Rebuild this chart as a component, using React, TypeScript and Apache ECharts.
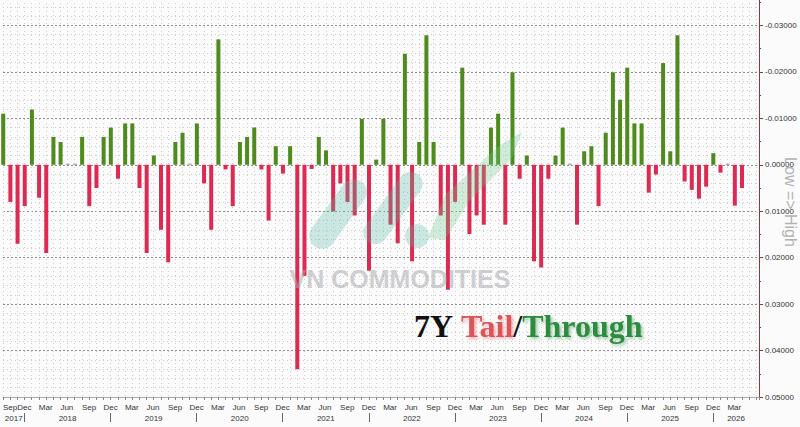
import React, { useEffect, useRef } from "react";
import * as echarts from "echarts";

// ---- data ----
const monthNames = ["Jan", "Feb", "Mar", "Apr", "May", "Jun", "Jul", "Aug", "Sep", "Oct", "Nov", "Dec"];

const auctionMonths = [
  "2017-09", "2017-10", "2017-11", "2017-12",
  "2018-01", "2018-02", "2018-03", "2018-04", "2018-05", "2018-06", "2018-07", "2018-08", "2018-09", "2018-10", "2018-11", "2018-12",
  "2019-01", "2019-02", "2019-03", "2019-04", "2019-05", "2019-06", "2019-07", "2019-08", "2019-09", "2019-10", "2019-11", "2019-12",
  "2020-01", "2020-02", "2020-03", "2020-04", "2020-05", "2020-06", "2020-07", "2020-08", "2020-09", "2020-10", "2020-11", "2020-12",
  "2021-01", "2021-02", "2021-03", "2021-04", "2021-05", "2021-06", "2021-07", "2021-08", "2021-09", "2021-10", "2021-11", "2021-12",
  "2022-01", "2022-02", "2022-03", "2022-04", "2022-05", "2022-06", "2022-07", "2022-08", "2022-09", "2022-10", "2022-11", "2022-12",
  "2023-01", "2023-02", "2023-03", "2023-04", "2023-05", "2023-06", "2023-07", "2023-08", "2023-09", "2023-10", "2023-11", "2023-12",
  "2024-01", "2024-02", "2024-03", "2024-04", "2024-05", "2024-06", "2024-07", "2024-08", "2024-09", "2024-10", "2024-11", "2024-12",
  "2025-01", "2025-02", "2025-03", "2025-04", "2025-05", "2025-06", "2025-07", "2025-08", "2025-09", "2025-10", "2025-11", "2025-12",
  "2026-01", "2026-02", "2026-03", "2026-04",
];

// positive = tail (red, plotted downward), negative = through (green, upward)
const tails = [
  -0.0110, 0.0080, 0.0170, 0.0089,
  -0.0119, 0.0071, 0.0190, -0.0060, -0.0049, 0, 0, -0.0060, 0.0089, 0.0050, -0.0060, -0.0080,
  0.0030, -0.0089, -0.0089, 0.0050, 0.0190, -0.0020, 0.0140, 0.0210, -0.0049, -0.0069, 0, -0.0089,
  0.0040, 0.0140, -0.0270, 0.0010, 0.0089, -0.0049, -0.0060, -0.0080, 0.0010, 0.0120, -0.0040, 0.0019,
  -0.0040, 0.0440, 0.0239, 0.0009, -0.0060, -0.0031, 0.0100, 0.0040, 0.0080, 0.0109, -0.0099, 0.0228,
  -0.0011, -0.0099, 0.0129, 0.0169, -0.0239, 0.0208, -0.0049, -0.0279, -0.0049, 0.0109, 0.0269, 0.0080,
  -0.0209, 0.0149, 0.0109, 0.0129, -0.0080, -0.0110, 0.0129, -0.0199, 0.0030, -0.0020, 0.0208, 0.0221,
  0.0030, -0.0020, -0.0080, 0, 0.0129, -0.0029, -0.0040, 0.0089, -0.0069, -0.0199, -0.0140, -0.0209,
  -0.0089, -0.0089, 0.0060, 0.0021, -0.0219, -0.0029, -0.0279, 0.0036, 0.0054, 0.0073, 0.0047, -0.0025,
  0.0017, 0, 0.0088, 0.0050,
];

const yAxisName = "Low => High";
const titleParts = ["7Y ", "Tail", "/", "Through"];
const watermarkText = "VN COMMODITIES";

// ---- helpers ----
const X_MIN = -3; // months since Jan 2018
const X_MAX = 102.4;
const OFFSET_Y = 21; // container is shifted up by this many pixels
const monthIndex = (ym: string) => {
  const [y, m] = ym.split("-").map(Number);
  return (y - 2018) * 12 + (m - 1);
};
const mod12 = (v: number) => ((v % 12) + 12) % 12;

const RED = "#dc2a52";
const GREEN = "#4f8a1c";
const LOGO = "rgba(90,185,165,0.30)";
const SERIF = "Liberation Serif, Times New Roman, serif";

export default function App() {
  const ref = useRef<HTMLDivElement>(null);

  useEffect(() => {
    if (!ref.current) return;
    const chart = echarts.init(ref.current, null, { renderer: "svg" });

    const barData = auctionMonths.map((ym, i) => [monthIndex(ym) + 1.03, tails[i]]);
    const last = tails[tails.length - 1];

    const quarterLabels: number[] = [X_MIN];
    for (let q = -1; q + 2 <= X_MAX; q += 3) quarterLabels.push(q);
    const yearTicks: number[] = [];
    for (let y = 0; y <= X_MAX; y += 12) yearTicks.push(y);
    const yearLabels: number[] = [(X_MIN + 0) / 2];
    for (let y = 0; y + 12 <= X_MAX; y += 12) yearLabels.push(y + 6);
    const lastYearStart = yearTicks[yearTicks.length - 1];
    yearLabels.push((lastYearStart + X_MAX) / 2);

    const axisFont = { fontFamily: "Liberation Sans, Arial, sans-serif", fontSize: 8, color: "#333" };
    const Y = (v: number) => v + OFFSET_Y;
    const titleText = `{a|${titleParts[0]}}{b|${titleParts[1]}}{a|${titleParts[2]}}{c|${titleParts[3]}}`;
    const tok = (fill: string, shadow?: string) => ({
      fontFamily: SERIF,
      fontWeight: "bold",
      fontSize: 32,
      fill,
      ...(shadow
        ? { textShadowColor: shadow, textShadowBlur: 3, textShadowOffsetX: 2, textShadowOffsetY: 2 }
        : {}),
    });

    chart.setOption({
      animation: false,
      backgroundColor: "#fbfbfb",
      grid: { left: 1.4, right: 41, top: 0, bottom: 30, containLabel: false },
      xAxis: [
        {
          type: "value",
          min: X_MIN,
          max: X_MAX,
          interval: 1,
          position: "bottom",
          axisLine: { show: true, onZero: false, lineStyle: { color: "#aaa", width: 1 } },
          axisTick: { show: true, length: 3, lineStyle: { color: "#888" } },
          axisLabel: {
            ...axisFont,
            customValues: quarterLabels,
            align: "left",
            margin: 6,
            formatter: (v: number) => {
              const q = Math.floor((v + 1) / 3) * 3 - 1;
              return monthNames[mod12(q)];
            },
          },
          splitLine: { show: true, lineStyle: { color: "#cfcfcf", type: [1, 3], width: 1 } },
        },
        {
          type: "value",
          min: X_MIN,
          max: X_MAX,
          position: "bottom",
          offset: 16,
          axisLine: { show: false, onZero: false },
          axisTick: { show: true, customValues: yearTicks, length: 9, lineStyle: { color: "#666" } },
          axisLabel: {
            ...axisFont,
            customValues: yearLabels,
            margin: 1,
            formatter: (v: number) => String(2018 + Math.floor(v / 12)),
          },
          splitLine: { show: false },
        },
      ],
      yAxis: [
        {
          type: "value",
          inverse: true,
          position: "right",
          min: -0.04,
          max: 0.05,
          interval: 0.01,
          axisLine: { show: true, onZero: false, lineStyle: { color: "#8a3447", width: 1 } },
          axisTick: { show: true, length: 4, lineStyle: { color: "#8a3447" } },
          minorTick: { show: false, splitNumber: 5 },
          minorSplitLine: { show: true, lineStyle: { color: "#cfcfcf", type: [1, 3], width: 1 } },
          axisLabel: {
            ...axisFont,
            margin: 6,
            formatter: (v: number) => (v < -0.035 ? "" : (Math.abs(v) < 1e-9 ? 0 : v).toFixed(5)),
          },
          splitLine: { show: true, lineStyle: { color: "#8c8c8c", type: [2, 2], width: 1 } },
        },
        {
          // half-step minor ticks on the right axis
          type: "value",
          inverse: true,
          position: "right",
          min: -0.04,
          max: 0.05,
          interval: 0.005,
          axisLine: { show: false, onZero: false },
          axisTick: { show: true, length: 2, lineStyle: { color: "#8a3447" } },
          axisLabel: { show: false },
          splitLine: { show: false },
        },
      ],
      series: [
        {
          type: "bar",
          xAxisIndex: 0,
          yAxisIndex: 0,
          data: barData,
          barWidth: 4,
          barMinHeight: 1,
          itemStyle: {
            color: (p: any) => {
              const v = p.value[1];
              return v > 0 ? RED : v < 0 ? GREEN : "#9a9a9a";
            },
          },
          markLine: {
            silent: true,
            symbol: ["none", "none"],
            lineStyle: { opacity: 0, width: 0 },
            data: [{ yAxis: last }],
            label: {
              show: true,
              position: "end",
              distance: 3,
              formatter: () => last.toFixed(5),
              backgroundColor: "#e0284f",
              color: "#ffffff",
              fontFamily: "Liberation Sans, Arial, sans-serif",
              fontSize: 8,
              padding: [2, 4, 2, 6],
              borderRadius: 3,
            },
          },
        },
      ],
      graphic: [
        // watermark logo
        {
          type: "rect",
          x: 338, y: Y(214), originX: 0, originY: 0,
          rotation: Math.PI * 0.3,
          z: 50,
          shape: { x: -40, y: -13, width: 80, height: 26, r: 13 },
          style: { fill: LOGO },
        },
        {
          type: "rect",
          x: 393, y: Y(208), originX: 0, originY: 0,
          rotation: Math.PI * 0.3,
          z: 50,
          shape: { x: -42, y: -12, width: 84, height: 24, r: 12 },
          style: { fill: LOGO },
        },
        {
          type: "circle",
          z: 50,
          shape: { cx: 417, cy: Y(236), r: 12 },
          style: { fill: LOGO },
        },
        {
          type: "polygon",
          z: 50,
          shape: {
            points: [[428, 238], [445, 195], [500, 145], [522, 132], [512, 158], [470, 200], [445, 240]].map(
              ([px, py]) => [px, Y(py)]
            ),
          },
          style: { fill: "rgba(110,200,140,0.30)" },
        },
        {
          type: "text",
          x: 400, y: Y(279), z: 60,
          style: {
            text: watermarkText,
            fontFamily: "Liberation Sans, Arial, sans-serif",
            fontWeight: "bold",
            fontSize: 25,
            fill: "rgba(170,170,175,0.55)",
            align: "center",
            verticalAlign: "middle",
          },
        },
        // title
        {
          type: "text",
          x: 414, y: Y(326), z: 100,
          style: {
            text: titleText,
            verticalAlign: "middle",
            rich: {
              a: tok("#111111"),
              b: tok("#dc5458", "rgba(235,130,130,0.55)"),
              c: tok("#2e8c40", "rgba(60,150,80,0.45)"),
            },
          },
        },
        // y-axis name
        {
          type: "text",
          x: 790, y: Y(202), z: 100,
          rotation: -Math.PI / 2,
          style: {
            text: yAxisName,
            fontFamily: "Liberation Sans, Arial, sans-serif",
            fontSize: 16,
            fill: "#b3b3b3",
            align: "center",
            verticalAlign: "middle",
          },
        },
      ],
    });

    return () => chart.dispose();
  }, []);

  return (
    <div
      ref={ref}
      style={{ position: "fixed", left: 0, top: -OFFSET_Y, width: 800, height: 427 + OFFSET_Y }}
    />
  );
}
